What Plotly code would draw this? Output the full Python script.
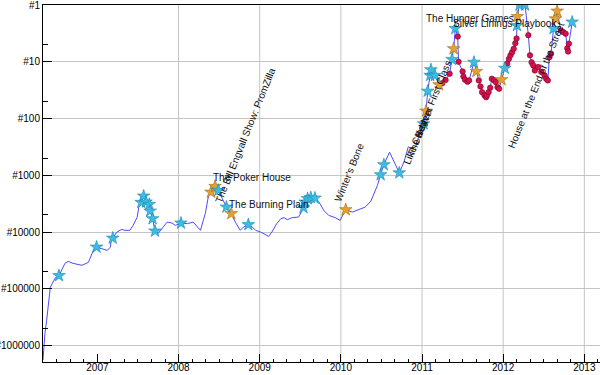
import plotly.graph_objects as go

# ---- data (decimal year, rank, marker kind) ----
years = [
    2006.33, 2006.354, 2006.375, 2006.408, 2006.42, 2006.478, 2006.527, 2006.60, 2006.64, 2006.70,
    2006.81, 2006.89, 2006.93, 2006.96, 2006.99, 2007.07, 2007.12, 2007.16, 2007.17, 2007.19,
    2007.24, 2007.30, 2007.34, 2007.40, 2007.44, 2007.49, 2007.51, 2007.54, 2007.57, 2007.60,
    2007.64, 2007.65, 2007.68, 2007.71, 2007.75, 2007.81, 2007.86, 2007.92, 2007.96, 2008.03,
    2008.11, 2008.18, 2008.27, 2008.33, 2008.37, 2008.40, 2008.43, 2008.45, 2008.49, 2008.59,
    2008.65, 2008.70, 2008.76, 2008.80, 2008.86, 2008.91, 2008.95, 2009.01, 2009.11, 2009.15,
    2009.21, 2009.26, 2009.30, 2009.34, 2009.40, 2009.48, 2009.54, 2009.56, 2009.59, 2009.63,
    2009.68, 2009.73, 2009.79, 2009.85, 2009.93, 2009.99, 2010.06, 2010.14, 2010.24, 2010.30,
    2010.37, 2010.41, 2010.45, 2010.49, 2010.53, 2010.60, 2010.65, 2010.72, 2010.78, 2010.83,
    2010.86, 2010.92, 2010.98, 2011.02, 2011.05, 2011.07, 2011.10, 2011.11, 2011.16, 2011.21,
    2011.25, 2011.29, 2011.34, 2011.37, 2011.39, 2011.41, 2011.44, 2011.45, 2011.50, 2011.51,
    2011.53, 2011.56, 2011.58, 2011.64, 2011.67, 2011.70, 2011.72, 2011.74, 2011.77, 2011.79,
    2011.80, 2011.82, 2011.84, 2011.86, 2011.89, 2011.91, 2011.93, 2011.95, 2011.98, 2012.02,
    2012.05, 2012.07, 2012.09, 2012.11, 2012.13, 2012.15, 2012.165, 2012.17, 2012.175, 2012.20,
    2012.27, 2012.31, 2012.33, 2012.35, 2012.37, 2012.39, 2012.43, 2012.47, 2012.51, 2012.53,
    2012.55, 2012.57, 2012.59, 2012.62, 2012.645, 2012.665, 2012.71, 2012.74, 2012.77, 2012.79,
    2012.80, 2012.81, 2012.85,
]
ranks = [
    1800000, 607000, 359000, 106000, 94000, 65000, 58600, 35600, 32800, 35600,
    38500, 34100, 25700, 19400, 18400, 20200, 21000, 18600, 14000, 12800,
    10000, 8960, 9330, 9330, 7620, 5510, 3670, 3000, 2320, 2960,
    3250, 4270, 5810, 9600, 10500, 8170, 6670, 6950, 7620, 6950,
    7110, 6670, 9330, 4690, 2260, 1980, 1610, 1570, 1845, 3630,
    4740, 6670, 9330, 8170, 7410, 8170, 9330, 10000, 11900, 10000,
    7110, 5810, 5570, 6050, 5570, 5440, 3720, 2960, 2580, 2480,
    2520, 2960, 4150, 5080, 5570, 6220, 4040, 4450, 3870, 3630,
    2850, 2110, 1510, 976, 650, 391, 547, 907, 569, 316,
    336, 319, 162, 124, 74, 33, 17.4, 13.8, 17.4, 25.4,
    23.8, 21, 16.3, 9.1, 5.9, 2.6, 3.6, 10.0, 14.8, 18.2,
    20.7, 22.5, 21.3, 10.2, 14.8, 21.3, 27.2, 34.3, 39, 42,
    39, 34.3, 28.7, 19.9, 21.3, 22.9, 28, 29.9, 20.7, 13,
    10.8, 8.9, 7.7, 6.8, 5.9, 4.7, 3.9, 2.3, 1.6, 1.0,
    1.0, 3.4, 7.7, 10.2, 11.6, 14.2, 12.4, 15.2, 17.4, 19.9,
    21.3, 8.3, 7.2, 2.6, 1.75, 1.28, 2.8, 3.0, 3.2, 5.8,
    6.6, 4.8, 2.0,
]
kinds = [
    "", "", "", "", "", "", "c", "", "", "",
    "", "", "", "", "c", "", "", "", "", "c",
    "", "", "", "", "", "", "", "c", "c", "c",
    "c", "c", "c", "c", "", "", "", "", "", "c",
    "", "", "", "", "", "o", "", "o", "c", "c",
    "o", "", "", "", "c", "", "", "", "", "",
    "", "", "", "", "", "", "c", "c", "c", "c",
    "c", "", "", "", "", "", "o", "", "", "",
    "", "", "", "c", "c", "", "", "c", "", "",
    "", "", "", "c", "o", "c", "c", "c", "c", "o",
    "r", "r", "r", "c", "o", "c", "r", "r", "r", "r",
    "r", "r", "r", "c", "o", "r", "r", "r", "r", "r",
    "r", "r", "r", "r", "r", "r", "r", "r", "o", "c",
    "r", "r", "r", "r", "r", "r", "r", "c", "o", "c",
    "c", "r", "r", "r", "r", "r", "r", "r", "r", "r",
    "r", "r", "r", "c", "o", "o", "r", "r", "r", "r",
    "r", "r", "c",
]

year_ticks = [2007, 2008, 2009, 2010, 2011, 2012, 2013]
grid_years = [2008, 2009, 2010, 2011, 2012, 2013]
rank_ticks = [1, 10, 100, 1000, 10000, 100000, 1000000]
rank_labels = ["#1", "#10", "#100", "#1000", "#10000", "#100000", "#1000000"]
rank_minor = [5, 50, 500, 5000, 50000, 500000]

# horizontal labels: text, decimal year (left edge), log10(rank) (middle)
hlabel_texts = ["The Poker House", "The Burning Plain", "The Hunger Games", "Silver Linings Playbook"]
hlabel_x = [2008.415, 2008.612, 2011.038, 2011.367]
hlabel_y = [3.037, 3.512, 0.243, 0.320]
# rotated labels: text, decimal year (centre), log10(rank) (centre)
rlabel_texts = ["The Bill Engvall Show: PromZilla", "Winter's Bone", "Like Crazy",
                "The Beaver", "X-Men: First Class", "House at the End of the Street"]
rlabel_x = [2008.821, 2010.102, 2010.915, 2010.976, 2011.131, 2012.405]
rlabel_y = [2.298, 2.949, 2.421, 2.227, 1.664, 1.417]

FONT = "Liberation Sans, Arial, sans-serif"

fig = go.Figure()
fig.add_trace(go.Scatter(x=years, y=ranks, mode="lines",
                         line=dict(color="#4b4bff", width=1), hoverinfo="skip"))

def subset(k):
    xs = [x for x, kk in zip(years, kinds) if kk == k]
    ys = [y for y, kk in zip(ranks, kinds) if kk == k]
    return xs, ys

rx, ry = subset("r")
fig.add_trace(go.Scatter(x=rx, y=ry, mode="markers",
                         marker=dict(symbol="circle", size=5.5, color="#d5124c",
                                     line=dict(color="#7a0028", width=0.6))))
ox, oy = subset("o")
fig.add_trace(go.Scatter(x=ox, y=oy, mode="markers",
                         marker=dict(symbol="star", size=9.5, color="#e3a235",
                                     line=dict(color="#a86a10", width=0.6))))
cx, cy = subset("c")
fig.add_trace(go.Scatter(x=cx, y=cy, mode="markers",
                         marker=dict(symbol="star", size=9.5, color="#3dbbe2",
                                     line=dict(color="#1e88b0", width=0.6))))

annotations = []
for t, lx, ly in zip(hlabel_texts, hlabel_x, hlabel_y):
    annotations.append(dict(x=lx, y=ly, xref="x", yref="y", text=t, showarrow=False,
                            xanchor="left", yanchor="middle", borderpad=0,
                            font=dict(family=FONT, size=10, color="#111")))
for t, lx, ly in zip(rlabel_texts, rlabel_x, rlabel_y):
    annotations.append(dict(x=lx, y=ly, xref="x", yref="y", text=t, showarrow=False,
                            textangle=-68, xanchor="center", yanchor="middle",
                            font=dict(family=FONT, size=10, color="#111")))

shapes = [dict(type="line", xref="x", yref="paper", x0=g, x1=g, y0=0, y1=1,
               line=dict(color="#c4c4c4", width=1), layer="below") for g in grid_years]

minor_x = []
v = 2006.5
while v < 2013.2:
    minor_x.append(round(v, 4))
    v += 1 / 6

fig.update_layout(
    width=600, height=375,
    margin=dict(l=43, r=0, t=5, b=13),
    paper_bgcolor="white", plot_bgcolor="white",
    showlegend=False,
    font=dict(family=FONT, size=10, color="black"),
    annotations=annotations,
    shapes=shapes,
    xaxis=dict(range=[2006.33, 2013.193], tickvals=year_ticks, automargin=False,
               ticktext=[str(y) for y in year_ticks], showgrid=False, zeroline=False,
               ticks="inside", ticklen=8, tickcolor="black", tickwidth=1,
               ticklabelstandoff=-4,
               showline=True, linecolor="black", linewidth=1, mirror=True,
               minor=dict(tickvals=minor_x, ticks="inside", ticklen=3,
                          tickcolor="black", showgrid=False),
               tickfont=dict(family=FONT, size=10, color="black")),
    yaxis=dict(type="log", range=[6.289, 0], tickvals=rank_ticks, ticktext=rank_labels,
               automargin=False, ticklabeloverflow="allow",
               showgrid=True, gridcolor="#c4c4c4", gridwidth=1, zeroline=False,
               ticks="inside", ticklen=9, tickcolor="black", tickwidth=1,
               showline=True, linecolor="black", linewidth=1, mirror=False,
               minor=dict(tickvals=rank_minor, ticks="inside", ticklen=5,
                          tickcolor="black", showgrid=False),
               tickfont=dict(family=FONT, size=10, color="black")),
)

fig.write_html("out.html", config={"displayModeBar": False},
               post_script="document.body.style.margin='0';document.body.style.overflow='hidden';")
